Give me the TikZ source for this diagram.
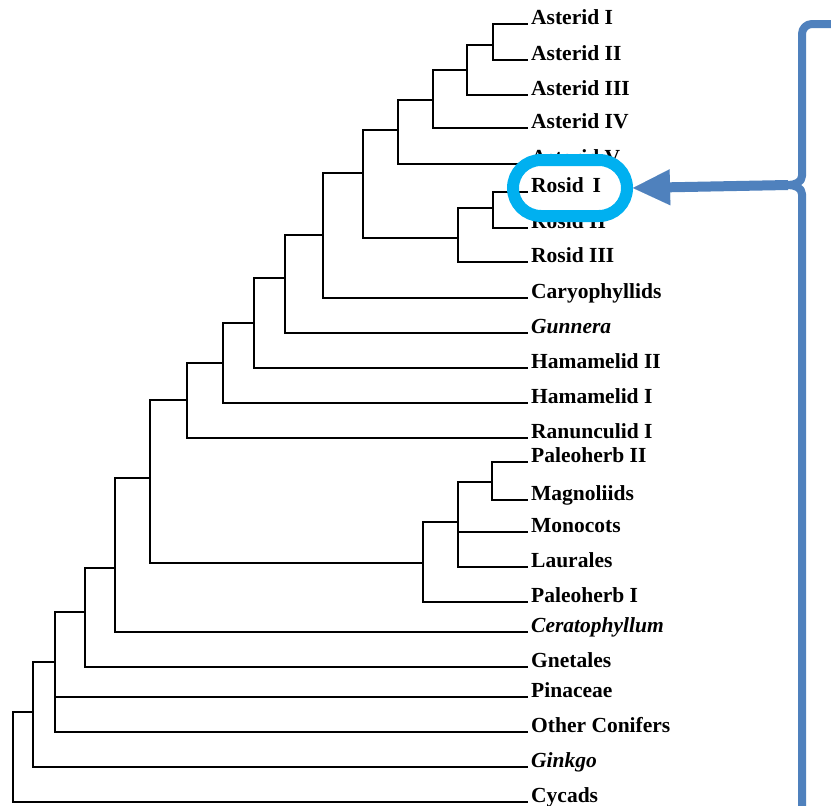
\documentclass[tikz,border=0pt]{standalone}
\usepackage{fontspec}
\setmainfont{Liberation Serif}
\usetikzlibrary{arrows.meta}
\definecolor{bracebl}{HTML}{4F81BD}
\definecolor{hlcyan}{HTML}{00B0F0}
\begin{document}
\begin{tikzpicture}[x=1pt,y=-1pt,
  br/.style={line width=2.4pt, line join=miter},
  leaf/.style={anchor=base west, inner sep=0pt, font=\fontsize{21.5}{24}\selectfont\bfseries},
  itleaf/.style={leaf, font=\fontsize{21.5}{24}\selectfont\bfseries\itshape},
  hilite/.style={draw=hlcyan, line width=12pt, rounded corners=28pt, minimum width=114pt, minimum height=56pt, inner sep=0pt},
  bracestyle/.style={draw=bracebl, line width=8pt, line join=round},
  arrowstyle/.style={draw=bracebl, line width=10pt, -{Triangle[length=37pt, width=36pt, line width=0.01pt]}}]
\useasboundingbox (0,0) rectangle (831,806);
\clip (0,0) rectangle (831,806);
\fill[white] (0,0) rectangle (831,806);

% leaf tips
\foreach \n/\y in {t1/24,t2/60,t3/95,t4/128,t5/164,t6/192,t7/228,t8/262,t9/298,t10/333,t11/368,t12/403,t13/438,t14/462,t15/500,t16/532,t17/567,t18/602,t19/632,t20/667,t21/697,t22/732,t23/767,t24/802}
  \coordinate (\n) at (528,\y);

% internal nodes
\coordinate (a12) at (493,45);
\coordinate (a123) at (467,70);
\coordinate (a1234) at (433,100);
\coordinate (ast) at (398,130);
\coordinate (r12) at (493,208);
\coordinate (ros) at (458,238);
\coordinate (ar) at (363,173);
\coordinate (car) at (323,235);
\coordinate (gun) at (285,278);
\coordinate (ham2) at (254,323);
\coordinate (ham1) at (223,363);
\coordinate (ran) at (187,400);
\coordinate (pal2) at (492,482);
\coordinate (mon) at (458,522);
\coordinate (pal1) at (423,563);
\coordinate (dic) at (150,478);
\coordinate (cer) at (115,568);
\coordinate (gne) at (85,612);
\coordinate (pin) at (55,662);
\coordinate (gin) at (33,712);
\coordinate (root) at (13,757);

% branches
\draw[br] (a12) |- (t1);   \draw[br] (a12) |- (t2);
\draw[br] (a123) |- (a12); \draw[br] (a123) |- (t3);
\draw[br] (a1234) |- (a123); \draw[br] (a1234) |- (t4);
\draw[br] (ast) |- (a1234); \draw[br] (ast) |- (t5);
\draw[br] (r12) |- (t6);   \draw[br] (r12) |- (t7);
\draw[br] (ros) |- (r12);  \draw[br] (ros) |- (t8);
\draw[br] (ar) |- (ast);   \draw[br] (ar) |- (ros);
\draw[br] (car) |- (ar);   \draw[br] (car) |- (t9);
\draw[br] (gun) |- (car);  \draw[br] (gun) |- (t10);
\draw[br] (ham2) |- (gun); \draw[br] (ham2) |- (t11);
\draw[br] (ham1) |- (ham2); \draw[br] (ham1) |- (t12);
\draw[br] (ran) |- (ham1); \draw[br] (ran) |- (t13);
\draw[br] (pal2) |- (t14); \draw[br] (pal2) |- (t15);
\draw[br] (mon) |- (pal2); \draw[br] (mon) |- (t16); \draw[br] (mon) |- (t17);
\draw[br] (pal1) |- (mon); \draw[br] (pal1) |- (t18);
\draw[br] (dic) |- (ran);  \draw[br] (dic) |- (pal1);
\draw[br] (cer) |- (dic);  \draw[br] (cer) |- (t19);
\draw[br] (gne) |- (cer);  \draw[br] (gne) |- (t20);
\draw[br] (pin) |- (gne);  \draw[br] (pin) |- (t21); \draw[br] (pin) |- (t22);
\draw[br] (gin) |- (pin);  \draw[br] (gin) |- (t23);
\draw[br] (root) |- (gin); \draw[br] (root) |- (t24);

% labels
\node[leaf] (l1) at ([xshift=3pt]t1) {Asterid I};
\node[leaf] (l2) at ([xshift=3pt]t2) {Asterid II};
\node[leaf] (l3) at ([xshift=3pt]t3) {Asterid III};
\node[leaf] (l4) at ([xshift=3pt]t4) {Asterid IV};
\node[leaf] (l5) at ([xshift=3pt]t5) {Asterid V};
\node[leaf] (l6) at ([xshift=3pt]t6) {Rosid\, I};
\node[leaf] (l7) at ([xshift=3pt]t7) {Rosid II};
\node[leaf] (l8) at ([xshift=3pt]t8) {Rosid III};
\node[leaf] (l9) at ([xshift=3pt]t9) {Caryophyllids};
\node[itleaf] (l10) at ([xshift=3pt]t10) {Gunnera};
\node[leaf] (l11) at ([xshift=3pt]t11) {Hamamelid II};
\node[leaf] (l12) at ([xshift=3pt]t12) {Hamamelid I};
\node[leaf] (l13) at ([xshift=3pt]t13) {Ranunculid I};
\node[leaf] (l14) at ([xshift=3pt]t14) {Paleoherb II};
\node[leaf] (l15) at ([xshift=3pt]t15) {Magnoliids};
\node[leaf] (l16) at ([xshift=3pt]t16) {Monocots};
\node[leaf] (l17) at ([xshift=3pt]t17) {Laurales};
\node[leaf] (l18) at ([xshift=3pt]t18) {Paleoherb I};
\node[itleaf] (l19) at ([xshift=3pt]t19) {Ceratophyllum};
\node[leaf] (l20) at ([xshift=3pt]t20) {Gnetales};
\node[leaf] (l21) at ([xshift=3pt]t21) {Pinaceae};
\node[leaf] (l22) at ([xshift=3pt]t22) {Other Conifers};
\node[itleaf] (l23) at ([xshift=3pt]t23) {Ginkgo};
\node[leaf] (l24) at ([xshift=3pt]t24) {Cycads};

% highlight around Rosid I
\node[hilite] (hl) at (570,188) {};

% brace and arrow
\coordinate (bt) at (788,185);
\draw[bracestyle] (850,24) -- (812,24) to[out=180,in=90] (802,34) -- (802,176) to[out=-90,in=0] (bt) to[out=0,in=90] (802,194) -- (802,830);
\draw[arrowstyle] (bt) -- (hl.east);
\end{tikzpicture}
\end{document}
